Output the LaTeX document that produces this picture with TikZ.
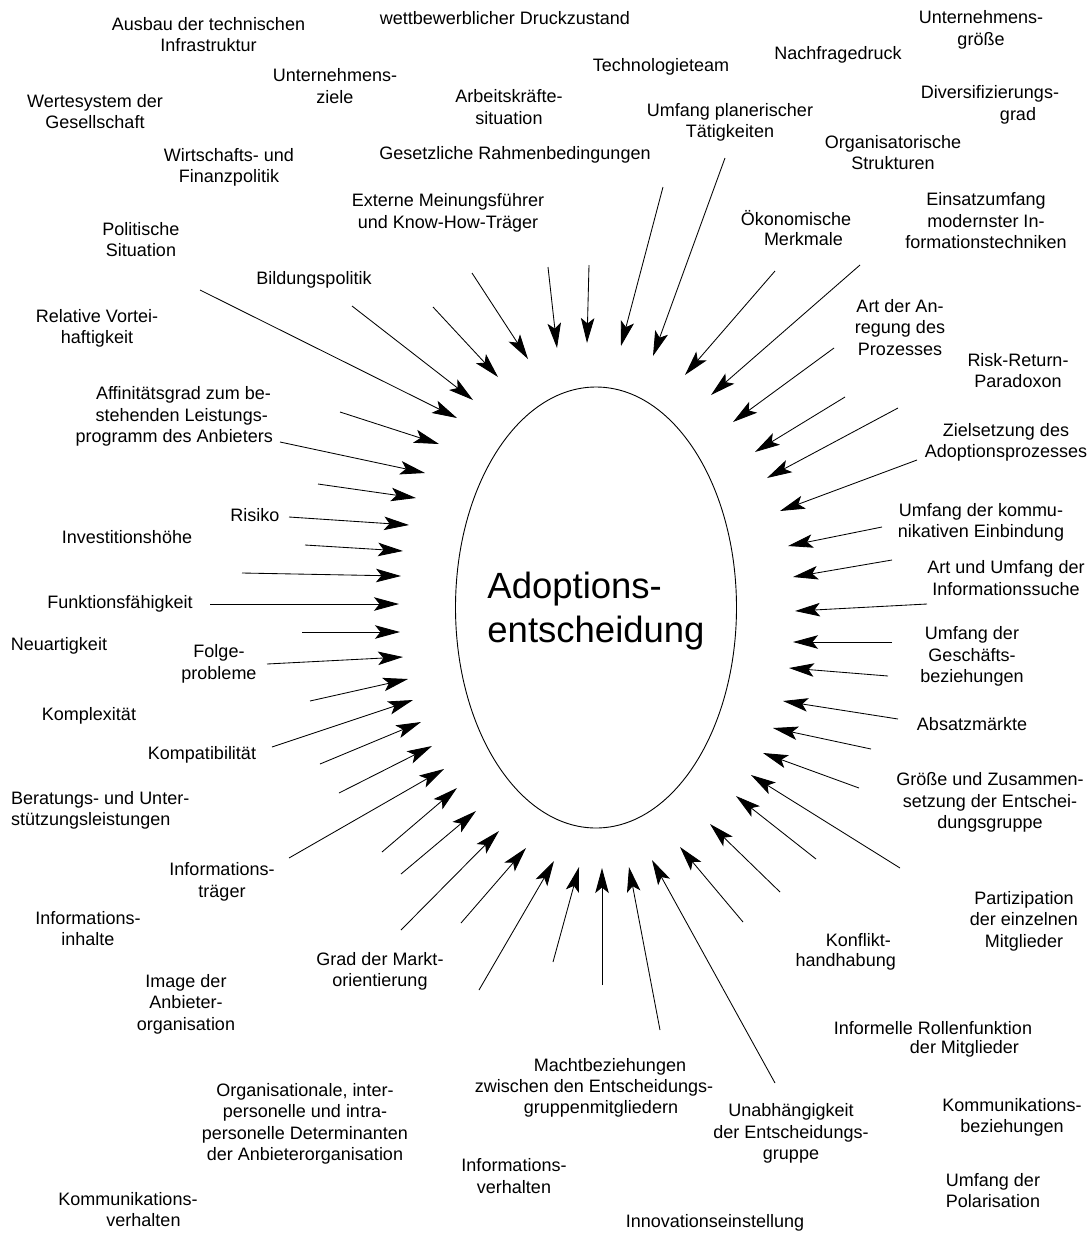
\documentclass[tikz,border=0pt]{standalone}
\usepackage{fontspec}
\setmainfont{Liberation Sans}
\usetikzlibrary{arrows.meta,shapes.geometric}
\begin{document}
\begin{tikzpicture}[x=1pt,y=-1pt,
  lbl/.style={align=center, inner sep=0pt, font=\fontsize{18}{21.5}\selectfont},
  inflow/.style={line width=0.85pt, -{Stealth[length=25pt,width=13.5pt,inset=5.5pt]}},
  hub/.style={ellipse, draw, line width=0.9pt, inner sep=0pt,
              minimum width=281pt, minimum height=441pt}]
\useasboundingbox[fill=white] (0,0) rectangle (1089,1235);

% central decision
\node[hub] (core) at (596,607.5) {};
\node[align=left, inner sep=0pt, font=\fontsize{36.5}{43.5}\selectfont] (title) at (596,611)
  {Adoptions-\\entscheidung};

% influences pointing at the decision
\foreach \n/\ax/\ay/\bx/\by in {
  1/548/267/557/348, 2/589/265/587/343, 3/663/187/621/346, 4/725/158/653/356,
  5/775/271/685/375, 6/860/265/711/395, 7/834/348/733/422, 8/845/397/755/452,
  9/898/408/767/478, 10/917/460/780/511, 11/882/527/788/546, 12/892/560/793/577,
  13/927/604/795/611, 14/892/642/793/642, 15/888/676/789/668, 16/898/719/783/701,
  17/871/749/773/728, 18/859/788/763/753, 19/900/868/751/775, 20/816/859/736/796,
  21/780/892/710/824, 22/743/922/680/847, 23/775/1083/652/860, 24/660/1030/629/867,
  25/602/985/602/868, 26/553/962/579/867, 27/479/990/554/861, 28/461/923/526/848,
  29/401/930/499/831, 30/401/874/476/811, 31/382/852/457/788, 32/289/858/444/769,
  33/339/793/432/746, 34/320/764/421/722, 35/272/747/413/700, 36/310/701/408/679,
  37/267/664/403/657, 38/302/632/400/632, 39/210/604/399/604, 40/242/573/401/576,
  41/305/545/403/551, 42/289/517/409/525, 43/318/484/416/498, 44/280/442/425/473,
  45/340/412/439/444, 46/200/290/457/418, 47/352/306/473/400, 48/433/307/498/377,
  49/472/273/528/359} {
  \coordinate (src\n) at (\ax,\ay);
  \coordinate (dst\n) at (\bx,\by);
  \draw[inflow] (src\n) -- (dst\n);
}

% factor labels
\node[lbl] (l1) at (208.5,34.75) {Ausbau der technischen\\Infrastruktur};
\node[lbl] (l2) at (505,18) {wettbewerblicher Druckzustand};
\node[lbl] (l3) at (981,30) {Unternehmens-\\größe};
\node[lbl] (l4) at (661,67) {Technologieteam};
\node[lbl] (l5) at (838,55) {Nachfragedruck};
\node[lbl] (l6) at (335,86) {Unternehmens-\\ziele};
\node[lbl] (l7) at (509,107) {Arbeitskräfte-\\situation};
\node[lbl] (l8) at (95,111.5) {Wertesystem der\\Gesellschaft};
\node[lbl] (l9a) at (990,94) {Diversifizierungs-};
\node[lbl] (l9b) at (1018,116) {grad};
\node[lbl] (l10) at (730,122.5) {Umfang planerischer\\Tätigkeiten};
\node[lbl] (l11) at (893,152.5) {Organisatorische\\Strukturen};
\node[lbl] (l12) at (515,155) {Gesetzliche Rahmenbedingungen};
\node[lbl] (l13) at (229,167.5) {Wirtschafts- und\\Finanzpolitik};
\node[lbl] (l14) at (448,213) {Externe Meinungsführer\\und Know-How-Träger};
\node[lbl] (l15a) at (796,218) {Ökonomische};
\node[lbl] (l15b) at (803.5,239) {Merkmale};
\node[lbl] (l16) at (986,221) {Einsatzumfang\\modernster In-\\formationstechniken};
\node[lbl] (l17) at (141,239.5) {Politische\\Situation};
\node[lbl] (l18) at (314,280) {Bildungspolitik};
\node[lbl] (l19) at (900,327.5) {Art der An-\\regung des\\Prozesses};
\node[lbl] (l20) at (97,328.5) {Relative Vortei-\\haftigkeit};
\node[lbl] (l21) at (1018,370.5) {Risk-Return-\\Paradoxon};
\node[lbl, anchor=east] (l22a) at (271,395) {Affinitätsgrad zum be-};
\node[lbl, anchor=east] (l22b) at (268,417) {stehenden Leistungs-};
\node[lbl, anchor=east] (l22c) at (273,438) {programm des Anbieters};
\node[lbl] (l23) at (1006,442.5) {Zielsetzung des\\Adoptionsprozesses};
\node[lbl] (l24) at (255,515) {Risiko};
\node[lbl] (l25) at (981,522.5) {Umfang der kommu-\\nikativen Einbindung};
\node[lbl] (l26) at (127,537) {Investitionshöhe};
\node[lbl] (l27) at (1006,578) {Art und Umfang der\\Informationssuche};
\node[lbl] (l28) at (120,604) {Funktionsfähigkeit};
\node[lbl] (l29) at (59,646) {Neuartigkeit};
\node[lbl] (l30) at (219,664) {Folge-\\probleme};
\node[lbl] (l31) at (972,656.5) {Umfang der\\Geschäfts-\\beziehungen};
\node[lbl] (l32) at (89,716) {Komplexität};
\node[lbl] (l33) at (972,724) {Absatzmärkte};
\node[lbl] (l34) at (202,755) {Kompatibilität};
\node[lbl, align=left, anchor=west] (l35) at (11,810.5) {Beratungs- und Unter-\\stützungsleistungen};
\node[lbl] (l36) at (990,802.5) {Größe und Zusammen-\\setzung der Entschei-\\dungsgruppe};
\node[lbl] (l37) at (222,882) {Informations-\\träger};
\node[lbl] (l38) at (1024,921) {Partizipation\\der einzelnen\\Mitglieder};
\node[lbl] (l39) at (88,928.5) {Informations-\\inhalte};
\node[lbl, anchor=east] (l40a) at (891,940) {Konflikt-};
\node[lbl, anchor=east] (l40b) at (896,961.5) {handhabung};
\node[lbl] (l41) at (380,971.5) {Grad der Markt-\\orientierung};
\node[lbl] (l42) at (186,1004) {Image der\\Anbieter-\\organisation};
\node[lbl] (l43a) at (933,1028) {Informelle Rollenfunktion};
\node[lbl] (l43b) at (964.5,1049) {der Mitglieder};
\node[lbl] (l44a) at (610,1067) {Machtbeziehungen};
\node[lbl] (l44b) at (594,1088) {zwischen den Entscheidungs-};
\node[lbl] (l44c) at (601,1109) {gruppenmitgliedern};
\node[lbl] (l45) at (1012,1117.5) {Kommunikations-\\beziehungen};
\node[lbl] (l46) at (305,1124) {Organisationale, inter-\\personelle und intra-\\personelle Determinanten\\der Anbieterorganisation};
\node[lbl] (l47) at (791,1133.5) {Unabhängigkeit\\der Entscheidungs-\\gruppe};
\node[lbl] (l48) at (514,1176) {Informations-\\verhalten};
\node[lbl] (l49) at (993,1190.5) {Umfang der\\Polarisation};
\node[lbl] (l50a) at (128,1199) {Kommunikations-};
\node[lbl] (l50b) at (143.5,1220.5) {verhalten};
\node[lbl] (l51) at (715,1223) {Innovationseinstellung};
\end{tikzpicture}
\end{document}
